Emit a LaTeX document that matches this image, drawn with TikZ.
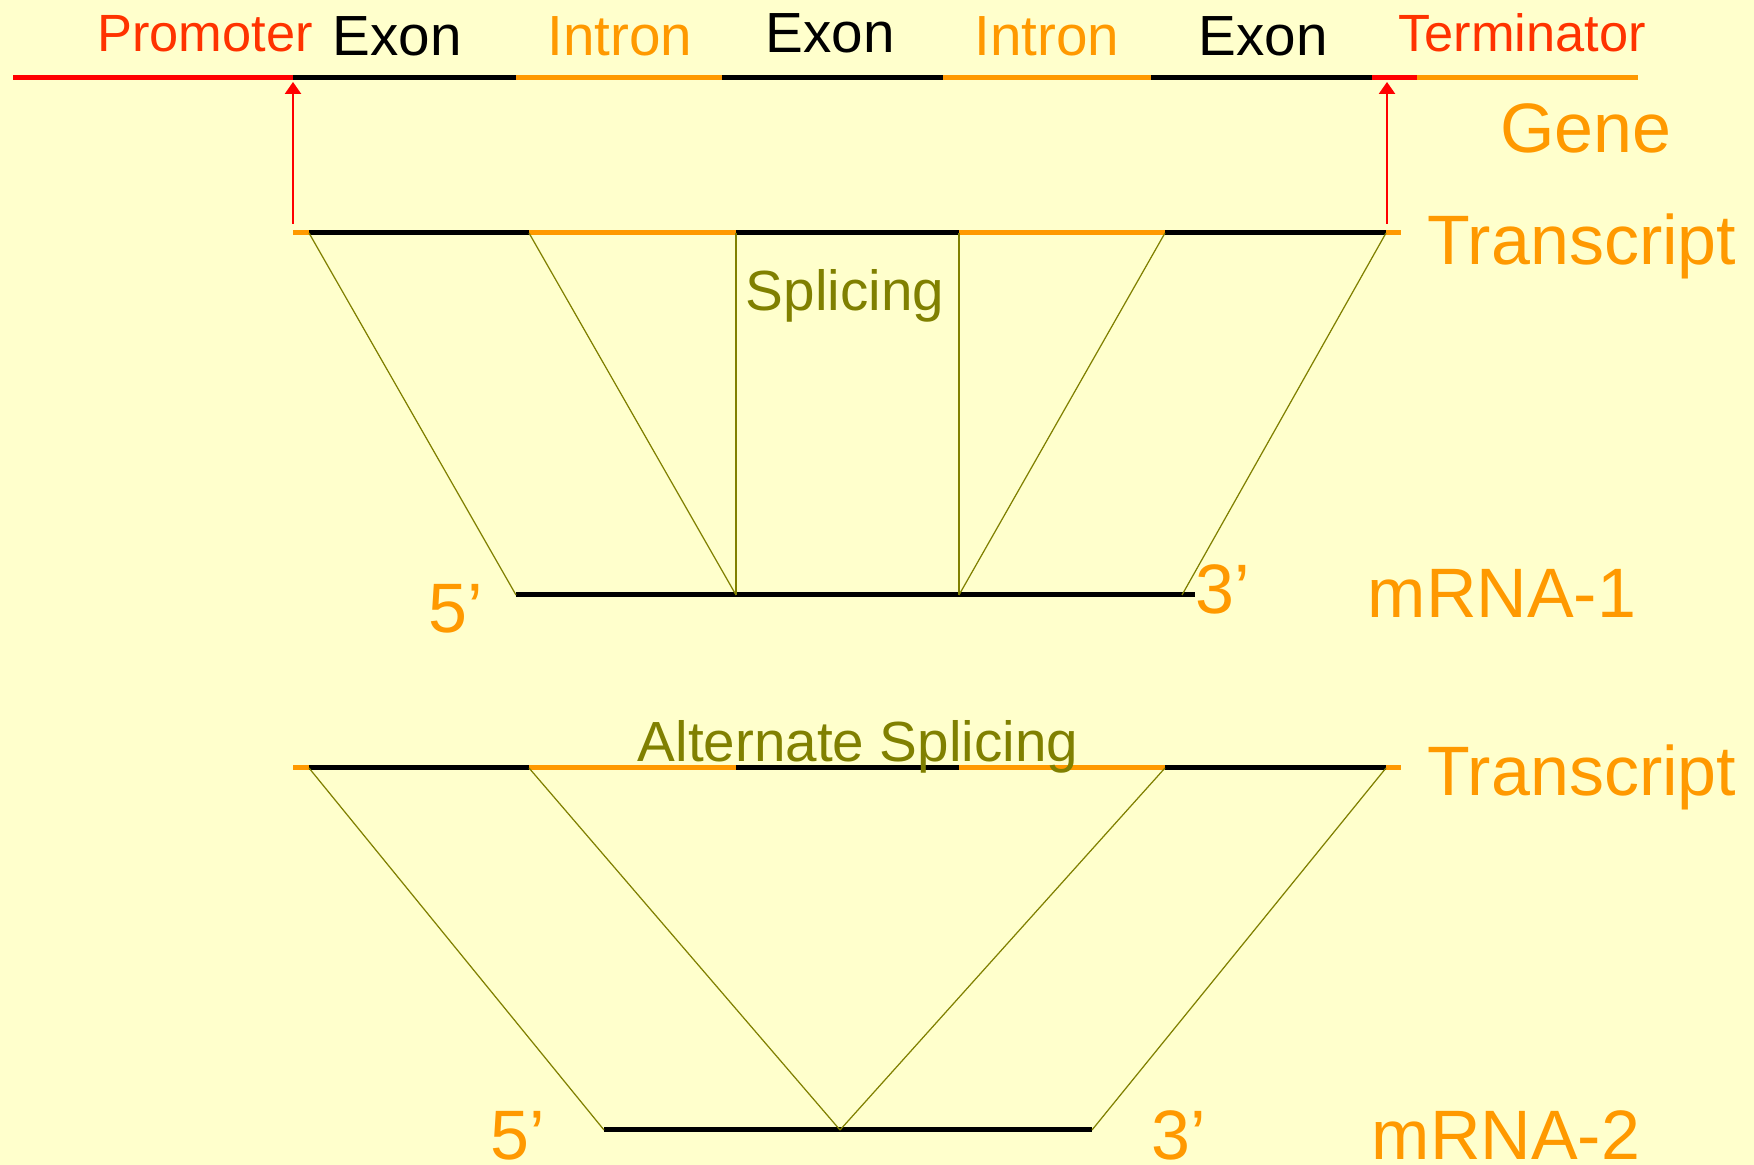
\documentclass[tikz,border=0pt]{standalone}
\usepackage{fontspec}
\setmainfont{Liberation Sans}
\usetikzlibrary{arrows.meta}

\definecolor{paper}{HTML}{FFFFCC}
\definecolor{introncol}{HTML}{FF9900}
\definecolor{signalcol}{HTML}{FF3300}
\definecolor{splicecol}{HTML}{808000}

\begin{document}
\begin{tikzpicture}[
        x=0.01cm, y=-0.01cm,
        strand/.style={% exon / intron pieces
            line width=1.42pt,
            },
        splice/.style={% joins from transcript to mRNA
            splicecol,
            line width=0.35pt,
            },
        tss/.style={% promoter and terminator marks
            red,
            line width=0.5pt,
            -{Triangle[length=3.4pt,width=4.6pt]},
            },
        small/.style={anchor=base,inner sep=0pt,font=\fontsize{14.9}{18}\selectfont},
        mid/.style={anchor=base,inner sep=0pt,font=\fontsize{16.1}{19}\selectfont},
        big/.style={anchor=base,inner sep=0pt,introncol,font=\fontsize{19.9}{24}\selectfont},
        ]
        \fill[paper] (0,0) rectangle (1754,1165);
        \useasboundingbox (0,0) rectangle (1754,1165);
        % Gene
        \foreach \n/\x in {0/13,1/293,2/516,3/722,4/943,5/1151,6/1372,7/1417,8/1638}
            \coordinate (g\n) at (\x,78);
        \foreach \i/\j/\c in {0/1/red,1/2/black,2/3/introncol,3/4/black,4/5/introncol,5/6/black,6/7/red,7/8/introncol}
            \draw[strand,\c] (g\i) -- (g\j);
        % Transcripts (a: upper, b: lower)
        \foreach \n/\x in {0/293,1/309,2/529,3/736,4/959,5/1165,6/1386,7/1401}
           {\coordinate (a\n) at (\x,233);
            \coordinate (b\n) at (\x,768);}
        \foreach \i/\j/\c in {0/1/introncol,1/2/black,2/3/introncol,3/4/black,4/5/introncol,5/6/black,6/7/introncol}
           {\draw[strand,\c] (a\i) -- (a\j);
            \draw[strand,\c] (b\i) -- (b\j);}
        % start and stop of transcription
        \coordinate (ps) at (293,224);
        \coordinate (pe) at (293,82);
        \coordinate (ts) at (1387,224);
        \coordinate (te) at (1387,82);
        \draw[tss] (ps) -- (pe);
        \draw[tss] (ts) -- (te);
        % mRNA-1
        \coordinate (m1s) at (516,595);
        \coordinate (m1a) at (736,595);
        \coordinate (m1b) at (959,595);
        \coordinate (m1e) at (1182,595);
        \coordinate (m1t) at (1195,595);
        \draw[strand] (m1s) -- (m1t);
        \draw[splice] (a1) -- (m1s);
        \draw[splice] (a2) -- (m1a);
        \draw[splice] (a3) -- (m1a);
        \draw[splice] (a4) -- (m1b);
        \draw[splice] (a5) -- (m1b);
        \draw[splice] (a6) -- (m1e);
        % mRNA-2
        \coordinate (m2s) at (604,1130);
        \coordinate (m2v) at (840,1130);
        \coordinate (m2e) at (1092,1130);
        \draw[strand] (m2s) -- (m2e);
        \draw[splice] (b1) -- (m2s);
        \draw[splice] (b2) -- (m2v);
        \draw[splice] (b5) -- (m2v);
        \draw[splice] (b6) -- (m2e);
        % Labels
        \node[small,signalcol] (prom) at (205,52) {Promoter};
        \node[mid] (ex1) at (397,56) {Exon};
        \node[mid,introncol] (in1) at (620,56) {Intron};
        \node[mid] (ex2) at (830,53) {Exon};
        \node[mid,introncol] (in2) at (1047,56) {Intron};
        \node[mid] (ex3) at (1263,56) {Exon};
        \node[small,signalcol] (term) at (1522,52) {Terminator};
        \node[big] (gene) at (1586,153) {Gene};
        \node[big] (tr1) at (1582,265) {Transcript};
        \node[mid,splicecol] (spl) at (845,311) {Splicing};
        \node[big] (p5a) at (456,633) {5’};
        \node[big] (p3a) at (1223,614) {3’};
        \node[big] (mr1) at (1502,618) {mRNA-1};
        \node[mid,splicecol] (alt) at (858,762) {Alternate Splicing};
        \node[big] (tr2) at (1582,796) {Transcript};
        \node[big] (p5b) at (518,1160) {5’};
        \node[big] (p3b) at (1179,1160) {3’};
        \node[big] (mr2) at (1506,1160) {mRNA-2};
\end{tikzpicture}
\end{document}
